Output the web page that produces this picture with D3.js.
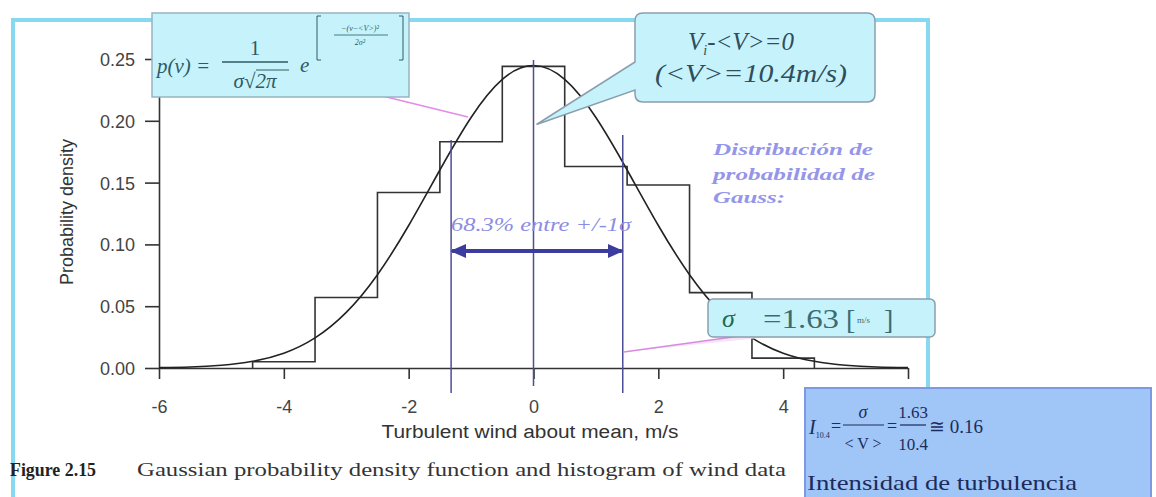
<!DOCTYPE html>
<html><head><meta charset="utf-8">
<script src="https://cdn.jsdelivr.net/npm/d3@7"></script>
<style>body{margin:0;background:#fff}</style>
</head><body>
<svg id="chart" width="1156" height="497"></svg>
<script>
// ---- data ----
const binCenters = [-4, -3, -2, -1, 0, 1, 2, 3, 4];
const binDensity = [0.005, 0.057, 0.142, 0.183, 0.244, 0.163, 0.148, 0.061, 0.008];
const curveV = [-6, -5.5, -5, -4.5, -4, -3.5, -3, -2.5, -2, -1.5, -1, -0.5, 0, 0.5, 1, 1.5, 2, 2.5, 3, 3.5, 4, 4.5, 5, 5.5, 6];
const curveP = [0.0003, 0.0008, 0.0022, 0.0054, 0.012, 0.0244, 0.045, 0.0755, 0.1153, 0.1602, 0.2027, 0.2335, 0.2447, 0.2335, 0.2027, 0.1602, 0.1153, 0.0755, 0.045, 0.0244, 0.012, 0.0054, 0.0022, 0.0008, 0.0003];
const xTicks = [-6, -4, -2, 0, 2, 4, 6];
const xTickLabels = ["-6", "-4", "-2", "0", "2", "4", ""]; // "6" is hidden behind the blue box
const yTicks = [0, 0.05, 0.10, 0.15, 0.20, 0.25];
const yTickLabels = ["0.00", "0.05", "0.10", "0.15", "0.20", "0.25"];
const sigmaMarks = [-1.32, 1.43];
const xTitle = "Turbulent wind about mean, m/s";
const yTitle = "Probability density";

const svg = d3.select("#chart");
const x = d3.scaleLinear().domain([-6, 6]).range([159, 908]);
const y = d3.scaleLinear().domain([0, 0.25]).range([368, 59]);
const sans = "'Liberation Sans', Arial, sans-serif";
const serif = "'Liberation Serif', 'Times New Roman', serif";

// outer cyan frame
svg.append("rect").attr("x", 13).attr("y", 20).attr("width", 915).attr("height", 520)
  .attr("fill", "none").attr("stroke", "#86d9ee").attr("stroke-width", 4);

// axes
const gx = svg.append("g").attr("transform", `translate(0,${y(0)})`)
  .call(d3.axisBottom(x).tickValues(xTicks).tickSize(11).tickSizeOuter(0).tickPadding(21)
    .tickFormat((d, i) => xTickLabels[i]));
const gy = svg.append("g").attr("transform", `translate(${x(-6)},0)`)
  .call(d3.axisLeft(y).tickValues(yTicks).tickSize(14).tickSizeOuter(0).tickPadding(10)
    .tickFormat((d, i) => yTickLabels[i]));
[gx, gy].forEach(g => {
  g.selectAll("path,line").attr("stroke", "#333").attr("stroke-width", 1.6);
  g.selectAll("text").attr("font-family", sans).attr("font-size", 18).attr("fill", "#444");
});
gy.selectAll("text").attr("dy", "0.36em");

// histogram (step outline)
const stepPts = [];
binCenters.forEach((c, i) => {
  stepPts.push([c - 0.5, binDensity[i]]);
  stepPts.push([c + 0.5, binDensity[i]]);
});
stepPts.unshift([binCenters[0] - 0.5, 0]);
stepPts.push([binCenters[binCenters.length - 1] + 0.5, 0]);
svg.append("path").datum(stepPts)
  .attr("d", d3.line().x(d => x(d[0])).y(d => y(d[1])))
  .attr("fill", "none").attr("stroke", "#333").attr("stroke-width", 1.6);

// gaussian curve
svg.append("path").datum(curveV.map((v, i) => [v, curveP[i]]))
  .attr("d", d3.line().x(d => x(d[0])).y(d => y(d[1])).curve(d3.curveNatural))
  .attr("fill", "none").attr("stroke", "#222").attr("stroke-width", 1.6);

// mean and sigma lines
const navy = "#4d4d98";
svg.append("line").attr("x1", x(0)).attr("x2", x(0)).attr("y1", 60).attr("y2", 386)
  .attr("stroke", navy).attr("stroke-width", 1.5);
svg.append("line").attr("x1", x(sigmaMarks[0])).attr("x2", x(sigmaMarks[0])).attr("y1", 140).attr("y2", 393)
  .attr("stroke", navy).attr("stroke-width", 1.5);
svg.append("line").attr("x1", x(sigmaMarks[1])).attr("x2", x(sigmaMarks[1])).attr("y1", 135).attr("y2", 393)
  .attr("stroke", navy).attr("stroke-width", 1.5);

// double arrow
const defs = svg.append("defs");
["s", "e"].forEach(k => {
  defs.append("marker").attr("id", "ar" + k).attr("markerUnits", "userSpaceOnUse")
    .attr("markerWidth", 16).attr("markerHeight", 14).attr("refX", k === "e" ? 14 : 2).attr("refY", 7)
    .attr("orient", "auto")
    .append("path").attr("d", k === "e" ? "M0,0 L16,7 L0,14 Z" : "M16,0 L0,7 L16,14 Z").attr("fill", "#3c3c9e");
});
svg.append("line").attr("x1", x(sigmaMarks[0]) + 1).attr("x2", x(sigmaMarks[1]) - 1).attr("y1", 251).attr("y2", 251)
  .attr("stroke", "#3c3c9e").attr("stroke-width", 4)
  .attr("marker-start", "url(#ars)").attr("marker-end", "url(#are)");
svg.append("text").attr("x", x(sigmaMarks[0])).attr("y", 231)
  .attr("font-family", serif).attr("font-style", "italic").attr("font-size", 18).attr("fill", "#8c8ce2")
  .attr("textLength", 180).attr("lengthAdjust", "spacingAndGlyphs")
  .text("68.3% entre +/-1σ");

// pink pointers
svg.append("line").attr("x1", 358).attr("y1", 90).attr("x2", 468).attr("y2", 117)
  .attr("stroke", "#e58be6").attr("stroke-width", 1.5);
svg.append("path").attr("d", `M${x(sigmaMarks[1]) + 1},352 L738,336 L770,337 Z`)
  .attr("fill", "#f6e3f6").attr("stroke", "none");
svg.append("line").attr("x1", x(sigmaMarks[1]) + 1).attr("y1", 352).attr("x2", 740).attr("y2", 336)
  .attr("stroke", "#d88ae0").attr("stroke-width", 1.5);

// formula box
const teal = "#2e5a66";
svg.append("rect").attr("x", 152).attr("y", 13).attr("width", 257).attr("height", 84)
  .attr("fill", "#c6f3fb").attr("stroke", "#95b5c2").attr("stroke-width", 1.5);
const ft = svg.append("g").attr("font-family", serif).attr("fill", teal);
ft.append("text").attr("x", 157).attr("y", 73).attr("font-size", 21).attr("font-style", "italic").text("p(v) =");
ft.append("text").attr("x", 255).attr("y", 55).attr("font-size", 21).attr("text-anchor", "middle").text("1");
ft.append("line").attr("x1", 222).attr("x2", 288).attr("y1", 62).attr("y2", 62).attr("stroke", teal).attr("stroke-width", 1.5);
ft.append("text").attr("x", 255).attr("y", 88).attr("font-size", 21).attr("text-anchor", "middle").attr("font-style", "italic").text("σ√2π");
ft.append("line").attr("x1", 256).attr("x2", 289).attr("y1", 70).attr("y2", 70).attr("stroke", teal).attr("stroke-width", 1);
ft.append("text").attr("x", 300).attr("y", 72).attr("font-size", 21).attr("font-style", "italic").text("e");
ft.append("path").attr("d", "M321,16 H317 V60 H321 M399,16 H403 V60 H399").attr("fill", "none").attr("stroke", teal).attr("stroke-width", 1);
ft.append("text").attr("x", 360).attr("y", 31).attr("font-size", 8).attr("text-anchor", "middle").attr("font-style", "italic").text("−(v−<V>)²");
ft.append("line").attr("x1", 334).attr("x2", 388).attr("y1", 35).attr("y2", 35).attr("stroke", teal).attr("stroke-width", 0.8);
ft.append("text").attr("x", 360).attr("y", 45).attr("font-size", 8).attr("text-anchor", "middle").attr("font-style", "italic").text("2σ²");

// mean callout
const tipX = x(0) + 3, tipY = y(0.197);
svg.append("path")
  .attr("d", `M643,13 H867 Q875,13 875,21 V94 Q875,102 867,102 H643 Q635,102 635,94 V90 L${tipX},${tipY} L635,62 V21 Q635,13 643,13 Z`)
  .attr("fill", "#c6f3fb").attr("stroke", "#8a9fae").attr("stroke-width", 1.5);
const ct = svg.append("g").attr("font-family", serif).attr("font-style", "italic").attr("fill", "#2f4d5c");
const l1 = ct.append("text").attr("x", 688).attr("y", 50).attr("font-size", 25);
l1.append("tspan").text("V");
l1.append("tspan").attr("font-size", 14).attr("dy", 5).text("i");
l1.append("tspan").attr("dy", -5).text("-<V>=0");
ct.append("text").attr("x", 655).attr("y", 82).attr("font-size", 25)
  .attr("textLength", 192).attr("lengthAdjust", "spacingAndGlyphs").text("(<V>=10.4m/s)");

// purple description
const pd = svg.append("g").attr("font-family", serif).attr("font-style", "italic").attr("font-weight", "bold")
  .attr("fill", "#9595ea").attr("font-size", 17);
pd.append("text").attr("x", 713).attr("y", 155).attr("textLength", 160).attr("lengthAdjust", "spacingAndGlyphs").text("Distribución de");
pd.append("text").attr("x", 713).attr("y", 180).attr("textLength", 162).attr("lengthAdjust", "spacingAndGlyphs").text("probabilidad de");
pd.append("text").attr("x", 713).attr("y", 203).attr("textLength", 72).attr("lengthAdjust", "spacingAndGlyphs").text("Gauss:");

// sigma box
svg.append("rect").attr("x", 708).attr("y", 299).attr("width", 227).attr("height", 38).attr("rx", 5)
  .attr("fill", "#c6f3fb").attr("stroke", "#8a9fae").attr("stroke-width", 1.5);
const sg = svg.append("g").attr("font-family", serif);
sg.append("text").attr("x", 722).attr("y", 327).attr("font-size", 26).attr("font-style", "italic").attr("fill", "#1f6a52").text("σ");
sg.append("text").attr("x", 763).attr("y", 328).attr("font-size", 28).attr("fill", "#3a6c72")
  .attr("textLength", 76).attr("lengthAdjust", "spacingAndGlyphs").text("=1.63");
sg.append("text").attr("x", 846).attr("y", 329).attr("font-size", 28).attr("fill", "#3a6c72").text("[");
sg.append("text").attr("x", 857).attr("y", 323).attr("font-size", 9).attr("fill", "#3a6c72").text("m/s");
sg.append("text").attr("x", 884).attr("y", 329).attr("font-size", 28).attr("fill", "#3a6c72").text("]");

// turbulence intensity box
svg.append("rect").attr("x", 805).attr("y", 388).attr("width", 346).attr("height", 120)
  .attr("fill", "#9fc6f7").attr("stroke", "#7d98e4").attr("stroke-width", 2);
const ink = "#1c2b5c";
const bt = svg.append("g").attr("font-family", serif).attr("fill", ink).attr("font-size", 18);
const it = bt.append("text").attr("x", 809).attr("y", 434).attr("font-style", "italic").attr("font-size", 20);
it.append("tspan").text("I");
it.append("tspan").attr("font-size", 8).attr("dy", 4).attr("font-style", "normal").text("10.4");
bt.append("text").attr("x", 831).attr("y", 432).text("=");
bt.append("text").attr("x", 863).attr("y", 418).attr("text-anchor", "middle").attr("font-style", "italic").text("σ");
bt.append("line").attr("x1", 843).attr("x2", 884).attr("y1", 425).attr("y2", 425).attr("stroke", ink).attr("stroke-width", 1.2);
bt.append("text").attr("x", 863).attr("y", 449).attr("text-anchor", "middle").attr("font-size", 16).text("< V >");
bt.append("text").attr("x", 887).attr("y", 432).text("=");
bt.append("text").attr("x", 913).attr("y", 418).attr("text-anchor", "middle").attr("font-size", 17).text("1.63");
bt.append("line").attr("x1", 900).attr("x2", 926).attr("y1", 425).attr("y2", 425).attr("stroke", ink).attr("stroke-width", 1.2);
bt.append("text").attr("x", 913).attr("y", 450).attr("text-anchor", "middle").attr("font-size", 17).text("10.4");
bt.append("text").attr("x", 929).attr("y", 433).attr("font-size", 19).text("≅ 0.16");
bt.append("text").attr("x", 807).attr("y", 490).attr("font-size", 21)
  .attr("textLength", 270).attr("lengthAdjust", "spacingAndGlyphs").text("Intensidad  de turbulencia");

// axis titles
svg.append("text").attr("x", 530).attr("y", 438).attr("text-anchor", "middle")
  .attr("font-family", sans).attr("font-size", 18).attr("fill", "#333")
  .attr("textLength", 297).attr("lengthAdjust", "spacingAndGlyphs").text(xTitle);
svg.append("text").attr("transform", "translate(73,212) rotate(-90)").attr("text-anchor", "middle")
  .attr("font-family", sans).attr("font-size", 18).attr("fill", "#333").text(yTitle);

// caption
svg.append("text").attr("x", 10).attr("y", 476).attr("font-family", serif).attr("font-weight", "bold")
  .attr("font-size", 18).attr("fill", "#222").attr("textLength", 86).attr("lengthAdjust", "spacingAndGlyphs").text("Figure 2.15");
svg.append("text").attr("x", 137).attr("y", 476).attr("font-family", serif)
  .attr("font-size", 18).attr("fill", "#333").attr("textLength", 649).attr("lengthAdjust", "spacingAndGlyphs")
  .text("Gaussian probability density function and histogram of wind data");
</script>
</body></html>
